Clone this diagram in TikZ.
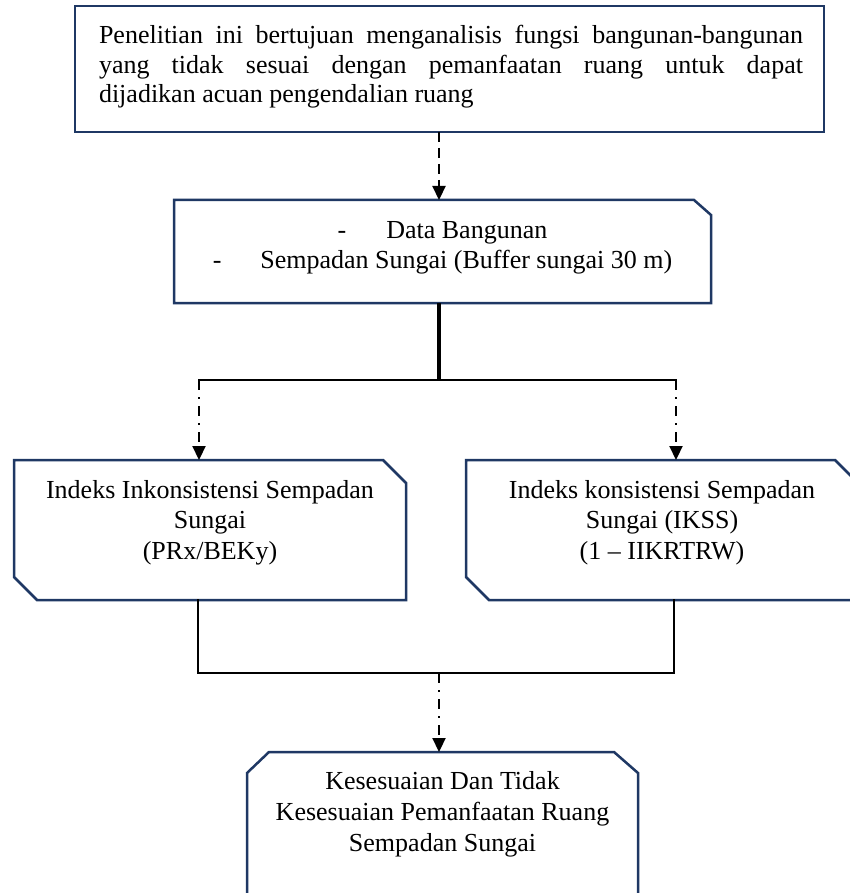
\documentclass[tikz,border=0pt]{standalone}
\usepackage{fontspec}
\setmainfont{Liberation Serif}
\usetikzlibrary{arrows.meta,calc}
\definecolor{navy}{HTML}{1F3864}
\newcommand{\bxt}[5]{\parbox[c][#1pt][t]{#2pt}{\fontsize{26pt}{#4pt}\selectfont\vspace*{#3pt}\centering #5\par}}
\tikzset{
  plain/.style={rectangle, draw=none, inner sep=0pt, outer sep=0pt},
  boxline/.style={draw=navy, line width=2.5pt, line join=miter},
  conn/.style={draw=black, line width=2.6pt, line cap=rect},
  stem/.style={draw=black, line width=3.2pt},
  darrow/.style={draw=black, line width=2.2pt, dash pattern=on 10pt off 6pt, -{Triangle[width=13pt,length=14pt]}},
  ddarrow/.style={draw=black, line width=2.2pt, dash pattern=on 10pt off 7pt on 2pt off 7pt, -{Triangle[width=13pt,length=14pt]}}
}
\begin{document}
\begin{tikzpicture}[x=1pt,y=-1pt]
\fill[white] (0,0) rectangle (850,893);
\clip (0,0) rectangle (850,893);

% top box
\node[plain, draw=navy, line width=2.5pt] (b1) at (449.5,69)
  {\hspace*{24pt}\parbox[c][126pt][t]{704pt}{\fontsize{26pt}{29.5pt}\selectfont\vspace*{17pt}\strut Penelitian ini bertujuan menganalisis fungsi bangunan-bangunan\linebreak yang tidak sesuai dengan pemanfaatan ruang untuk dapat\linebreak dijadikan acuan pengendalian ruang\par}\hspace*{21pt}};

% data box
\node[plain] (b2) at (442.5,251.5)
  {\bxt{103}{537}{17.5}{30}{\strut-\hspace{40pt}Data Bangunan\\-\hspace{39pt}Sempadan Sungai (Buffer sungai 30 m)}};
\draw[boxline] (b2.north west) -- ([xshift=-17pt]b2.north east) -- ([yshift=-15pt]b2.north east) -- (b2.south east) -- (b2.south west) -- cycle;

% index boxes
\node[plain] (b3) at (210,530)
  {\bxt{140}{392}{17}{30.5}{\strut Indeks Inkonsistensi Sempadan\\Sungai\\(PRx/BEKy)}};
\draw[boxline] (b3.north west) -- ([xshift=-23pt]b3.north east) -- ([yshift=-23pt]b3.north east) -- (b3.south east) -- ([xshift=23pt]b3.south west) -- ([yshift=23pt]b3.south west) -- cycle;

\node[plain] (b4) at (662,530)
  {\bxt{140}{392}{17}{30.5}{\strut Indeks konsistensi Sempadan\\Sungai (IKSS)\\(1 -- IIKRTRW)}};
\draw[boxline] (b4.north west) -- ([xshift=-23pt]b4.north east) -- ([yshift=-23pt]b4.north east) -- (b4.south east) -- ([xshift=23pt]b4.south west) -- ([yshift=23pt]b4.south west) -- cycle;

% result box
\node[plain] (b5) at (442.5,826)
  {\bxt{148}{391}{15.5}{31}{\strut Kesesuaian Dan Tidak\\Kesesuaian Pemanfaatan Ruang\\Sempadan Sungai}};
\draw[boxline] ([yshift=-21pt]b5.north west) -- ([xshift=22pt]b5.north west) -- ([xshift=-24pt]b5.north east) -- ([yshift=-21pt]b5.north east) -- (b5.south east) -- (b5.south west) -- cycle;

% connectors
\coordinate (t2) at ([xshift=-3.5pt]b2.north);
\draw[darrow] (b1.south -| t2) -- (t2);

\coordinate (s1) at (199,380);
\coordinate (s2) at (676,380);
\coordinate (u2) at ([xshift=-3.5pt]b2.south);
\draw[stem] (u2) -- (u2 |- s1);
\draw[conn] (s1) -- (s2);
\draw[ddarrow] (s1) -- (s1 |- b3.north);
\draw[ddarrow] (s2) -- (s2 |- b4.north);

\coordinate (m1) at (198,673);
\coordinate (m2) at (674,673);
\coordinate (m0) at (439,673);
\draw[conn] (b3.south -| m1) -- (m1) -- (m2) -- (b4.south -| m2);
\draw[ddarrow] (m0) -- (m0 |- b5.north);
\end{tikzpicture}
\end{document}
